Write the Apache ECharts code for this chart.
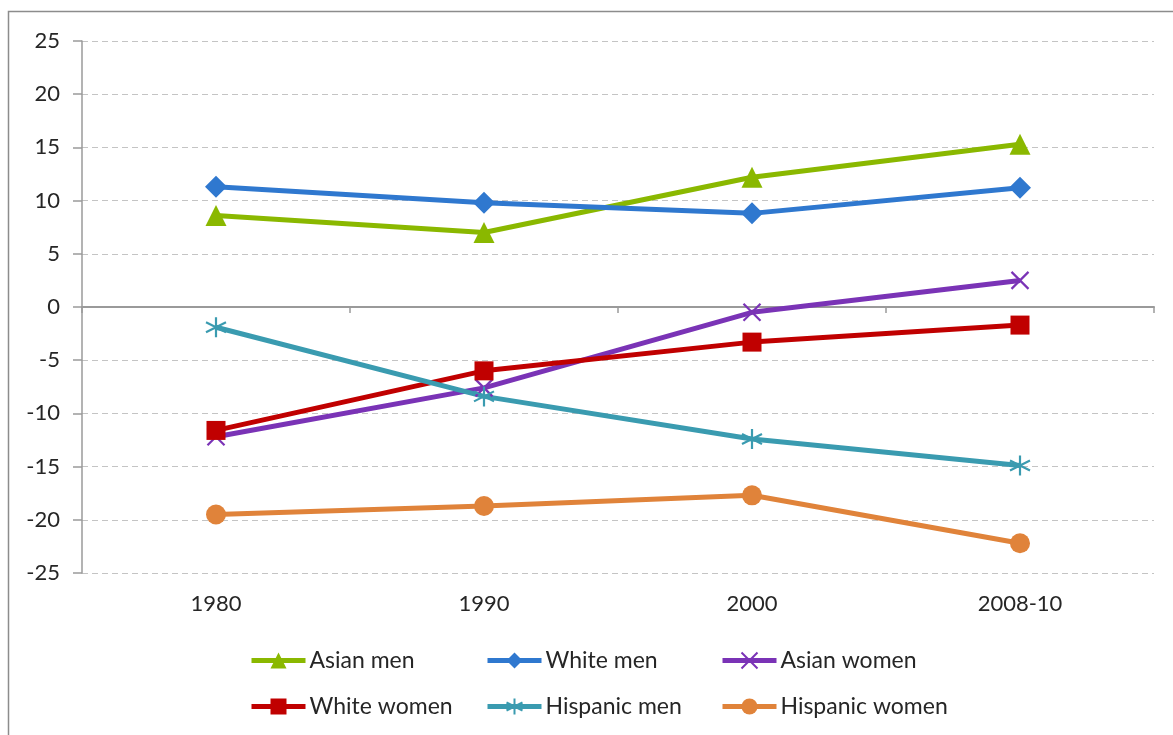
<!DOCTYPE html>
<html>
<head>
<meta charset="utf-8">
<script src="https://cdn.jsdelivr.net/npm/echarts@6/dist/echarts.min.js"></script>
<style>
  html, body { margin: 0; padding: 0; background: #fff; }
  #chart { width: 1173px; height: 735px; }
</style>
</head>
<body>
<div id="chart"></div>
<script>
// Categories and series values
const categories = ['1980', '1990', '2000', '2008-10'];
const asianMen = [8.6, 7.0, 12.2, 15.3];
const whiteMen = [11.3, 9.8, 8.8, 11.2];
const asianWomen = [-12.2, -7.6, -0.5, 2.5];
const whiteWomen = [-11.6, -6.0, -3.3, -1.7];
const hispanicMen = [-1.9, -8.4, -12.4, -14.9];
const hispanicWomen = [-19.5, -18.7, -17.7, -22.2];
const yTicks = { min: -25, max: 25, interval: 5 };

const FONT = 'Lato, "Open Sans", sans-serif';
const TEXT = '#262626';

const crossPath = 'path://M0,0L10,10M0,10L10,0';
const starPath = 'path://M5,0L5,10M0.67,2.5L9.33,7.5M0.67,7.5L9.33,2.5';

function line(name, data, color, symbol, size, stroked) {
  return {
    name: name,
    type: 'line',
    data: data,
    xAxisIndex: 0,
    symbol: symbol,
    symbolSize: size,
    showAllSymbol: true,
    lineStyle: { color: color, width: 5 },
    itemStyle: stroked
      ? { color: color, borderColor: color, borderWidth: 2.2 }
      : { color: color, borderWidth: 0 },
    emphasis: { disabled: true },
    animation: false
  };
}

const chart = echarts.init(document.getElementById('chart'), null, { renderer: 'canvas' });

const legendBase = {
  orient: 'vertical',
  top: 649,
  padding: 0,
  itemWidth: 54,
  itemHeight: 20,
  itemGap: 23,
  lineStyle: { width: 5 },
  textStyle: { fontFamily: FONT, fontSize: 23, color: TEXT, lineHeight: 20, padding: [0, 0, 0, -1] },
  selectedMode: false
};

chart.setOption({
  backgroundColor: '#ffffff',
  animation: false,
  graphic: [{
    type: 'rect',
    shape: { x: 8.5, y: 11.5, width: 1300, height: 900 },
    style: { fill: 'none', stroke: '#8c8c8c', lineWidth: 1.5 },
    silent: true,
    z: -1
  }],
  grid: { left: 82, right: 19, top: 41, bottom: 162, containLabel: false },
  legend: [
    Object.assign({}, legendBase, { left: 249, data: ['Asian men', 'White women'] }),
    Object.assign({}, legendBase, { left: 485, data: ['White men', 'Hispanic men'] }),
    Object.assign({}, legendBase, { left: 720, data: ['Asian women', 'Hispanic women'] })
  ],
  xAxis: [
    {
      type: 'category',
      data: categories,
      position: 'bottom',
      boundaryGap: true,
      axisLine: { show: false, onZero: false },
      axisTick: { show: false },
      axisLabel: { fontFamily: FONT, fontSize: 22, color: TEXT, margin: 20 },
      splitLine: { show: false }
    },
    {
      type: 'category',
      data: categories,
      position: 'top',
      boundaryGap: true,
      axisLine: { show: true, onZero: true, lineStyle: { color: '#9a9a9a', width: 2 } },
      axisTick: { show: true, inside: true, length: 6, lineStyle: { color: '#9a9a9a', width: 1.5 } },
      axisLabel: { show: false },
      splitLine: { show: false }
    }
  ],
  yAxis: {
    type: 'value',
    min: yTicks.min,
    max: yTicks.max,
    interval: yTicks.interval,
    axisLine: { show: true, lineStyle: { color: '#9a9a9a', width: 1.5 } },
    axisTick: { show: true, length: 9, lineStyle: { color: '#9a9a9a', width: 1.5 } },
    axisLabel: { fontFamily: FONT, fontSize: 22, color: TEXT, margin: 22 },
    splitLine: { show: true, lineStyle: { color: '#c4c4c4', width: 1.2, type: [6, 4] } }
  },
  series: [
    line('Asian men', asianMen, '#8AB800', 'triangle', 21, false),
    line('White men', whiteMen, '#2F78CF', 'diamond', 22, false),
    line('Asian women', asianWomen, '#7A33B6', crossPath, 17, true),
    line('White women', whiteWomen, '#C00000', 'rect', 19, false),
    line('Hispanic men', hispanicMen, '#3A9BB0', starPath, 20, true),
    line('Hispanic women', hispanicWomen, '#E0833A', 'circle', 20, false)
  ]
});
</script>
</body>
</html>
